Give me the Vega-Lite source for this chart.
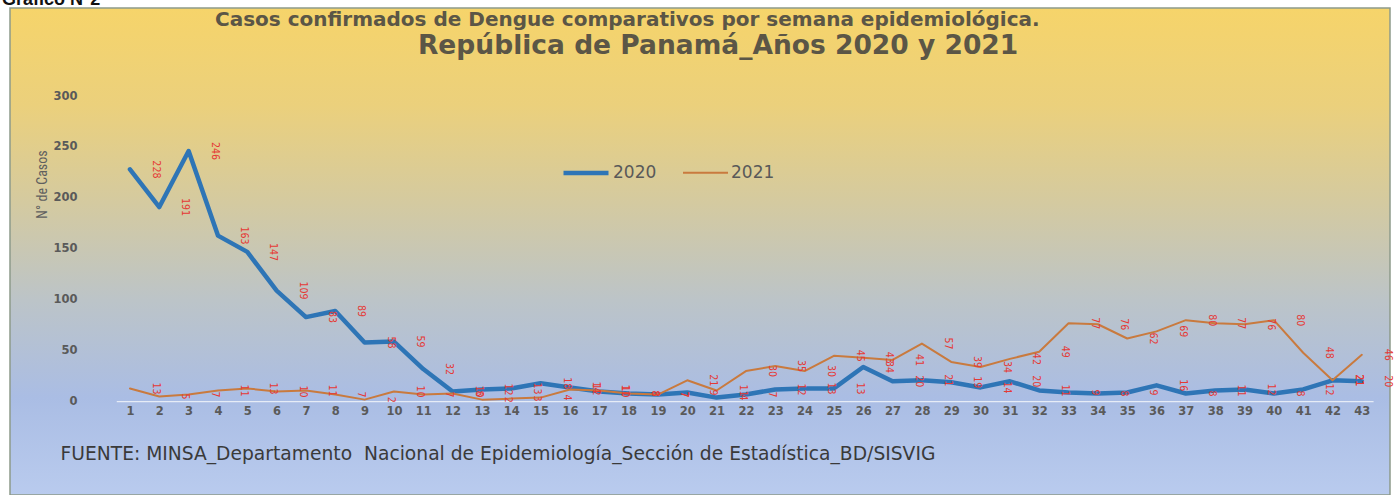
{
  "$schema": "https://vega.github.io/schema/vega-lite/v6.json",
  "width": 1380,
  "height": 487,
  "autosize": {"type": "none"},
  "padding": {"left": 10, "top": 8, "right": 5, "bottom": 0},
  "background": "#ffffff",
  "config": {"axis": {"labelOverlap": false}},
  "view": {
    "fill": {
      "gradient": "linear", "x1": 0, "y1": 0, "x2": 0, "y2": 1,
      "stops": [
        {"offset": 0, "color": "#f6d46a"},
        {"offset": 0.2, "color": "#ebd07c"},
        {"offset": 0.4, "color": "#d4caa0"},
        {"offset": 0.6, "color": "#bcc4c8"},
        {"offset": 0.8, "color": "#aabde4"},
        {"offset": 1, "color": "#b9cbee"}
      ]
    },
    "stroke": "#8d9a8a",
    "strokeWidth": 1.5
  },
  "title": {
    "text": "Casos confirmados de Dengue comparativos por semana epidemiológica.",
    "subtitle": "\u200b\u00a0\u00a0\u00a0\u00a0\u00a0\u00a0\u00a0\u00a0\u00a0\u00a0\u00a0\u00a0\u00a0\u00a0\u00a0\u00a0\u00a0\u00a0\u00a0\u00a0\u00a0\u00a0República de Panamá_Años 2020 y 2021",
    "anchor": "start",
    "frame": "group",
    "orient": "top",
    "offset": -68,
    "dx": 205,
    "font": "DejaVu Sans",
    "fontSize": 20,
    "fontWeight": "bold",
    "color": "#5b5646",
    "subtitleFont": "DejaVu Sans",
    "subtitleFontSize": 26.5,
    "subtitleFontWeight": "bold",
    "subtitleColor": "#5b5646",
    "subtitlePadding": 3
  },
  "datasets": {
    "rows": [
      {"week": 1, "year": "2020", "cases": 228}, {"week": 2, "year": "2020", "cases": 191}, {"week": 3, "year": "2020", "cases": 246},
      {"week": 4, "year": "2020", "cases": 163}, {"week": 5, "year": "2020", "cases": 147}, {"week": 6, "year": "2020", "cases": 109},
      {"week": 7, "year": "2020", "cases": 83}, {"week": 8, "year": "2020", "cases": 89}, {"week": 9, "year": "2020", "cases": 58},
      {"week": 10, "year": "2020", "cases": 59}, {"week": 11, "year": "2020", "cases": 32}, {"week": 12, "year": "2020", "cases": 10},
      {"week": 13, "year": "2020", "cases": 12}, {"week": 14, "year": "2020", "cases": 13}, {"week": 15, "year": "2020", "cases": 18},
      {"week": 16, "year": "2020", "cases": 14}, {"week": 17, "year": "2020", "cases": 10}, {"week": 18, "year": "2020", "cases": 8},
      {"week": 19, "year": "2020", "cases": 7}, {"week": 20, "year": "2020", "cases": 9}, {"week": 21, "year": "2020", "cases": 4},
      {"week": 22, "year": "2020", "cases": 7}, {"week": 23, "year": "2020", "cases": 12}, {"week": 24, "year": "2020", "cases": 13},
      {"week": 25, "year": "2020", "cases": 13}, {"week": 26, "year": "2020", "cases": 34}, {"week": 27, "year": "2020", "cases": 20},
      {"week": 28, "year": "2020", "cases": 21}, {"week": 29, "year": "2020", "cases": 19}, {"week": 30, "year": "2020", "cases": 14},
      {"week": 31, "year": "2020", "cases": 20}, {"week": 32, "year": "2020", "cases": 11}, {"week": 33, "year": "2020", "cases": 9},
      {"week": 34, "year": "2020", "cases": 8}, {"week": 35, "year": "2020", "cases": 9}, {"week": 36, "year": "2020", "cases": 16},
      {"week": 37, "year": "2020", "cases": 8}, {"week": 38, "year": "2020", "cases": 11}, {"week": 39, "year": "2020", "cases": 12},
      {"week": 40, "year": "2020", "cases": 8}, {"week": 41, "year": "2020", "cases": 12}, {"week": 42, "year": "2020", "cases": 21},
      {"week": 43, "year": "2020", "cases": 20},
      {"week": 1, "year": "2021", "cases": 13}, {"week": 2, "year": "2021", "cases": 5}, {"week": 3, "year": "2021", "cases": 7},
      {"week": 4, "year": "2021", "cases": 11}, {"week": 5, "year": "2021", "cases": 13}, {"week": 6, "year": "2021", "cases": 10},
      {"week": 7, "year": "2021", "cases": 11}, {"week": 8, "year": "2021", "cases": 7}, {"week": 9, "year": "2021", "cases": 2},
      {"week": 10, "year": "2021", "cases": 10}, {"week": 11, "year": "2021", "cases": 7}, {"week": 12, "year": "2021", "cases": 8},
      {"week": 13, "year": "2021", "cases": 2}, {"week": 14, "year": "2021", "cases": 3}, {"week": 15, "year": "2021", "cases": 4},
      {"week": 16, "year": "2021", "cases": 12}, {"week": 17, "year": "2021", "cases": 11}, {"week": 18, "year": "2021", "cases": 8},
      {"week": 19, "year": "2021", "cases": 7}, {"week": 20, "year": "2021", "cases": 21}, {"week": 21, "year": "2021", "cases": 11},
      {"week": 22, "year": "2021", "cases": 30}, {"week": 23, "year": "2021", "cases": 35}, {"week": 24, "year": "2021", "cases": 30},
      {"week": 25, "year": "2021", "cases": 45}, {"week": 26, "year": "2021", "cases": 43}, {"week": 27, "year": "2021", "cases": 41},
      {"week": 28, "year": "2021", "cases": 57}, {"week": 29, "year": "2021", "cases": 39}, {"week": 30, "year": "2021", "cases": 34},
      {"week": 31, "year": "2021", "cases": 42}, {"week": 32, "year": "2021", "cases": 49}, {"week": 33, "year": "2021", "cases": 77},
      {"week": 34, "year": "2021", "cases": 76}, {"week": 35, "year": "2021", "cases": 62}, {"week": 36, "year": "2021", "cases": 69},
      {"week": 37, "year": "2021", "cases": 80}, {"week": 38, "year": "2021", "cases": 77}, {"week": 39, "year": "2021", "cases": 76},
      {"week": 40, "year": "2021", "cases": 80}, {"week": 41, "year": "2021", "cases": 48}, {"week": 42, "year": "2021", "cases": 21},
      {"week": 43, "year": "2021", "cases": 46}
    ]
  },
  "layer": [
    {
      "data": {"name": "rows"},
      "mark": {"type": "line", "strokeCap": "round", "strokeJoin": "round"},
      "encoding": {
        "x": {
          "field": "week", "type": "quantitative",
          "scale": {"domain": [-3.09, 43.96], "nice": false, "zero": false},
          "axis": {
            "values": [1,2,3,4,5,6,7,8,9,10,11,12,13,14,15,16,17,18,19,20,21,22,23,24,25,26,27,28,29,30,31,32,33,34,35,36,37,38,39,40,41,42,43],
            "tickCount": 60,
            "offset": -93.3,
            "domain": false, "ticks": false, "grid": false, "labelOverlap": false, "labelBound": false,
            "labelFont": "DejaVu Sans", "labelFontWeight": "bold", "labelFontSize": 11.5, "labelColor": "#5a5a5a", "labelPadding": 4,
            "title": "FUENTE: MINSA_Departamento\u00a0 Nacional de Epidemiología_Sección de Estadística_BD/SISVIG",
            "titleX": 50, "titleY": 52, "titleAnchor": "start", "titleAlign": "left", "titleBaseline": "middle",
            "titleFont": "DejaVu Sans", "titleFontSize": 18.7, "titleFontWeight": "normal", "titleColor": "#3a3a3a"
          }
        },
        "y": {
          "field": "cases", "type": "quantitative",
          "scale": {"domain": [-91.6, 386.4], "nice": false, "zero": false},
          "axis": {
            "values": [0, 50, 100, 150, 200, 250, 300],
            "tickCount": 20,
            "offset": -70,
            "domain": false, "ticks": false, "grid": false, "labelOverlap": false,
            "labelFont": "DejaVu Sans", "labelFontWeight": "bold", "labelFontSize": 11.5, "labelColor": "#5a5a5a", "labelPadding": 3,
            "title": "N° de Casos",
            "titleX": -38, "titleY": 176, "titleAngle": -90, "titleAlign": "center", "titleBaseline": "middle",
            "titleFont": "Liberation Sans Narrow, Roboto Condensed, DejaVu Sans Condensed, Roboto", "titleFontWeight": "normal", "titleFontSize": 14, "titleColor": "#5f5f5f"
          }
        },
        "color": {
          "field": "year", "type": "nominal",
          "scale": {"domain": ["2020", "2021"], "range": ["#2e75b6", "#c97a3e"]},
          "legend": {
            "title": null, "orient": "none", "legendX": 551, "legendY": 140, "direction": "horizontal",
            "symbolType": "stroke", "symbolSize": 2025, "labelFont": "DejaVu Sans", "labelFontSize": 17,
            "labelColor": "#595959", "labelOffset": 2, "columnPadding": 22
          }
        },
        "strokeWidth": {
          "field": "year", "type": "nominal",
          "scale": {"domain": ["2020", "2021"], "range": [4.5, 2]},
          "legend": {
            "title": null, "orient": "none", "legendX": 551, "legendY": 140, "direction": "horizontal",
            "symbolType": "stroke", "symbolSize": 2025, "labelFont": "DejaVu Sans", "labelFontSize": 17,
            "labelColor": "#595959", "labelOffset": 2, "columnPadding": 22
          }
        }
      }
    },
    {
      "data": {"values": [{}]},
      "mark": {"type": "rule", "color": "#e6ecf6", "strokeWidth": 1.2},
      "encoding": {
        "x": {"datum": 0.55, "type": "quantitative"},
        "x2": {"datum": 43.4},
        "y": {"datum": 0, "type": "quantitative"}
      }
    },
    {
      "data": {"name": "rows"},
      "mark": {"type": "text", "angle": 90, "dy": -26, "fontSize": 10.5, "font": "DejaVu Sans Condensed", "color": "#e53935", "align": "center", "baseline": "middle"},
      "encoding": {
        "x": {"field": "week", "type": "quantitative"},
        "y": {"field": "cases", "type": "quantitative"},
        "text": {"field": "cases", "type": "quantitative"}
      }
    },
    {
      "data": {"values": [{}]},
      "mark": {"type": "text", "text": "Gráfico N°2", "align": "left", "baseline": "alphabetic", "dx": -8, "font": "Liberation Sans", "fontWeight": "bold", "fontSize": 18, "color": "#111111"},
      "encoding": {
        "x": {"datum": -3.09, "type": "quantitative"},
        "y": {"datum": 389, "type": "quantitative"}
      }
    }
  ]
}
